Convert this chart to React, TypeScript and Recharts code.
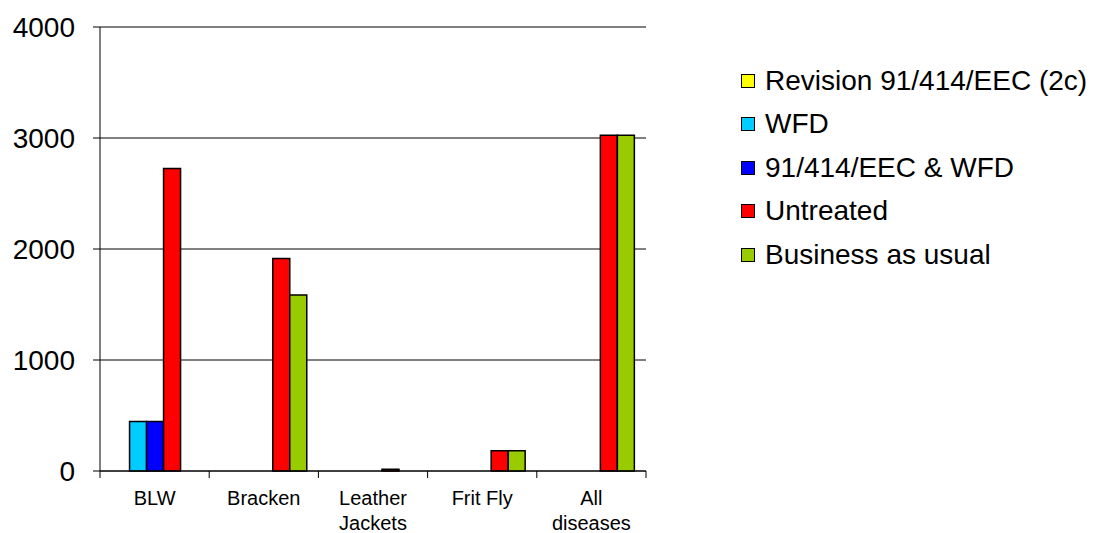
import React from 'react';
import { BarChart, Bar, XAxis, YAxis, CartesianGrid } from 'recharts';

const categories = ['BLW', 'Bracken', 'Leather Jackets', 'Frit Fly', 'All diseases'];
const revision2c = [0, 0, 0, 0, 0];
const wfd = [445, 0, 0, 0, 0];
const eecAndWfd = [445, 0, 0, 0, 0];
const untreated = [2725, 1915, 15, 182, 3025];
const businessAsUsual = [0, 1585, 0, 182, 3025];
const yTicks = [0, 1000, 2000, 3000, 4000];

const series = [
    { key: 'revision', name: 'Revision 91/414/EEC (2c)', color: '#FFFF00', values: revision2c },
    { key: 'wfd', name: 'WFD', color: '#00CCFF', values: wfd },
    { key: 'eecWfd', name: '91/414/EEC & WFD', color: '#0000FF', values: eecAndWfd },
    { key: 'untreated', name: 'Untreated', color: '#FF0000', values: untreated },
    { key: 'bau', name: 'Business as usual', color: '#99CC00', values: businessAsUsual },
];

const data = categories.map((category, i) => {
    const row: Record<string, string | number> = { category };
    series.forEach((s) => {
        row[s.key] = s.values[i];
    });
    return row;
});

const FONT = 'Arial, "Liberation Sans", sans-serif';

// long labels wrap onto two lines, like the original
const splitLabel = (label: string) => (label.length > 8 ? label.split(' ') : [label]);

const CategoryTick = (props: any) => {
    const { x, y, payload, index } = props;
    const half = payload.offset || 54.6;
    const lines = splitLabel(String(payload.value));
    return (
        <g>
            <line x1={x - half} y1={y - 8} x2={x - half} y2={y - 1} stroke="#000" strokeWidth={1} />
            {index === categories.length - 1 && (
                <line x1={x + half} y1={y - 8} x2={x + half} y2={y - 1} stroke="#000" strokeWidth={1} />
            )}
            {lines.map((w, i) => (
                <text
                    key={i}
                    x={x}
                    y={y + 26 + i * 25}
                    textAnchor="middle"
                    fontSize={20}
                    fontFamily={FONT}
                    fill="#000"
                >
                    {w}
                </text>
            ))}
        </g>
    );
};

const Legend = () => (
    <div style={{ position: 'absolute', left: 733, top: 51 }}>
        {series.map((s) => (
            <div key={s.key} style={{ display: 'flex', alignItems: 'center', height: 43.5 }}>
                <div
                    style={{
                        width: 12,
                        height: 12,
                        background: s.color,
                        border: '1px solid #000',
                        marginRight: 10,
                    }}
                />
                <span style={{ fontFamily: FONT, fontSize: 28, color: '#000', whiteSpace: 'nowrap' }}>{s.name}</span>
            </div>
        ))}
    </div>
);

export default function App() {
    return (
        <div style={{ position: 'relative', width: 1090, height: 525, background: '#fff' }}>
            <BarChart
                width={1090}
                height={525}
                data={data}
                margin={{ top: 19, right: 452, left: 0, bottom: 0 }}
                barCategoryGap="11.5%"
                barGap={0}
            >
                <CartesianGrid vertical={false} stroke="#000" strokeWidth={1} />
                <XAxis
                    dataKey="category"
                    height={62}
                    tickLine={false}
                    axisLine={{ stroke: '#000' }}
                    tick={<CategoryTick />}
                    interval={0}
                />
                <YAxis
                    width={92}
                    domain={[0, 4000]}
                    ticks={yTicks}
                    tickSize={7}
                    tickMargin={18}
                    axisLine={{ stroke: '#000' }}
                    tickLine={{ stroke: '#000' }}
                    tick={{ fill: '#000', fontSize: 28, fontFamily: FONT }}
                />
                {series.map((s) => (
                    <Bar
                        key={s.key}
                        dataKey={s.key}
                        name={s.name}
                        fill={s.color}
                        stroke="#000"
                        strokeWidth={1.5}
                        isAnimationActive={false}
                    />
                ))}
            </BarChart>
            <Legend />
        </div>
    );
}
